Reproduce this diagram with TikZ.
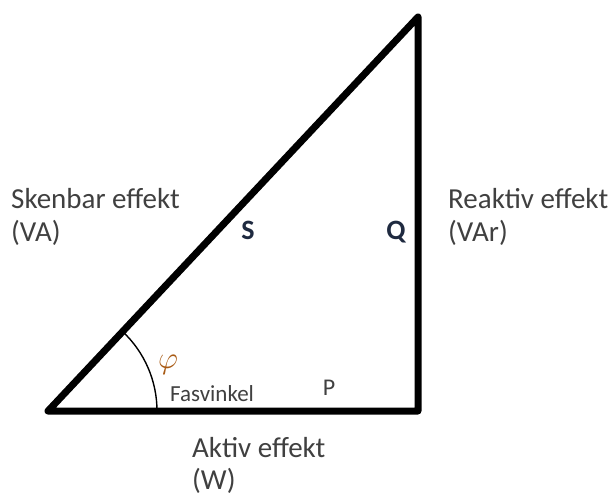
\documentclass[tikz,border=0pt]{standalone}
\usepackage{fix-cm}
\usepackage{fontspec}
\setmainfont{Carlito}
\definecolor{txt}{HTML}{404040}
\definecolor{navy}{HTML}{1F2A40}
\definecolor{phic}{HTML}{A85A14}
\begin{document}
\begin{tikzpicture}[x=1pt,y=-1pt,
  tri/.style={line width=7pt,line join=round,line cap=round},
  lbl/.style={inner sep=0pt,anchor=base west,text=txt,font=\fontsize{29}{33}\selectfont},
  bigl/.style={inner sep=0pt,anchor=base,text=navy,font=\fontsize{28}{32}\selectfont\bfseries},
]
\useasboundingbox (0,0) rectangle (613,497);
\coordinate (A) at (48,411);
\coordinate (B) at (418,411);
\coordinate (C) at (418,17);
\draw[tri] (A) -- (B) -- (C) -- cycle;
\draw[line width=1.4pt] ([xshift=109pt]A) arc[start angle=0,end angle=-46.8,radius=109];
\node[lbl] (sk) at (11,208) {Skenbar effekt};
\node[lbl] (va) at (11,241) {(VA)};
\node[lbl] (re) at (448,208) {Reaktiv effekt};
\node[lbl] (var) at (448,241) {(VAr)};
\node[lbl] (ak) at (192,457) {Aktiv effekt};
\node[lbl] (w) at (192,489) {(W)};
\node[bigl] (s) at (248,240) {S};
\node[bigl] (q) at (396,240) {Q};
\node[inner sep=0pt,anchor=base,text=txt,font=\fontsize{24}{28}\selectfont] (p) at (329,395) {P};
\node[inner sep=0pt,anchor=base west,text=txt,font=\fontsize{23}{27}\selectfont] (fv) at (170,401) {Fasvinkel};
\node[inner sep=0pt,text=phic,font=\fontsize{31}{35}\selectfont] (phi) at (168,365) {$\varphi$};
\end{tikzpicture}
\end{document}
